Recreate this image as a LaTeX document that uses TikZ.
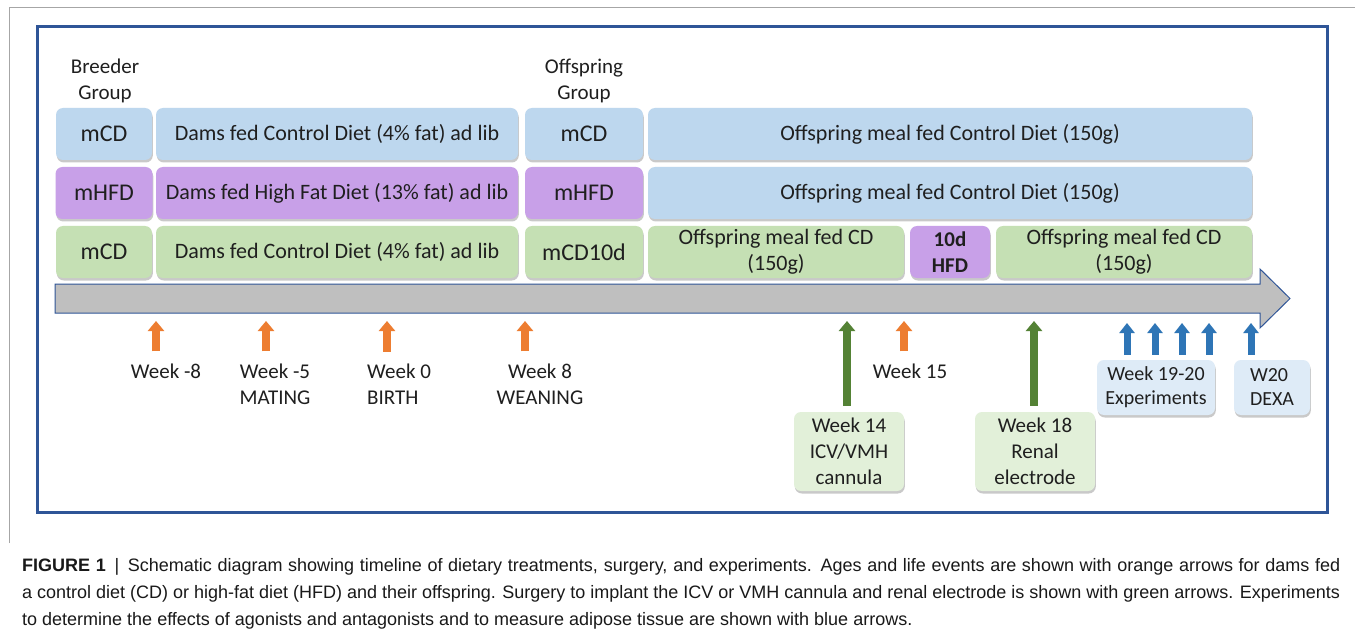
\documentclass[tikz,border=0pt]{standalone}
\usepackage{fontspec}
\setmainfont{Carlito}
\newfontfamily\capfont{Liberation Sans}
\usepackage{xcolor}
\usetikzlibrary{arrows.meta,shadows,calc}
\definecolor{frameblue}{HTML}{2F5597}
\definecolor{rowblue}{HTML}{BDD7EE}
\definecolor{rowpurple}{HTML}{C8A0E8}
\definecolor{rowgreen}{HTML}{C5E0B4}
\definecolor{barfill}{HTML}{BFBFBF}
\definecolor{agearrow}{HTML}{ED7D31}
\definecolor{surgarrow}{HTML}{548235}
\definecolor{exparrow}{HTML}{2E75B6}
\definecolor{surgbox}{HTML}{E2F0D9}
\definecolor{expbox}{HTML}{DEEBF7}
\definecolor{inkgray}{HTML}{1F1F1F}
\newcommand{\lblfont}{\fontsize{21}{26}\selectfont}
\newcommand{\rowfont}{\fontsize{22}{26}\selectfont}
\newcommand{\grpfont}{\fontsize{24}{28}\selectfont}

\begin{document}
\begin{tikzpicture}[
    x=1pt, y=-1pt,
    every node/.style={font=\lblfont, text=inkgray},
    box/.style={rounded corners=7pt, inner sep=0pt, align=center,
      minimum height=52pt,
      drop shadow={shadow xshift=0.8pt, shadow yshift=-2.5pt,
        opacity=0.35, fill=black!60}},
    bluebox/.style={box, fill=rowblue, font=\rowfont},
    purplebox/.style={box, fill=rowpurple, font=\rowfont},
    greenbox/.style={box, fill=rowgreen, font=\rowfont},
    grp/.style={font=\grpfont},
    wklabel/.style={inner sep=0pt, align=center},
    agearr/.style={agearrow, line width=8pt,
      -{Triangle[width=16pt,length=10pt]}, shorten <=12pt},
    surgarr/.style={surgarrow, line width=8pt,
      -{Triangle[width=16pt,length=10pt]}, shorten <=6pt},
    exparr/.style={exparrow, line width=7pt,
      -{Triangle[width=15pt,length=10pt]}, shorten <=5pt},
  ]
    % picture is laid out in pixel units of the 1355 x 631 figure
    \useasboundingbox (0,0) rectangle (1355,631);
    \fill[white] (0,0) rectangle (1355,631);

    % outer page rule and blue frame
    \draw[gray!70, line width=0.8pt] (9,543) -- (9,7) -- (1355,7);
    \draw[frameblue, line width=3pt] (37,27) rectangle (1327,512);

    % column headers
    \node[align=center] (breeder) at (105,81) {Breeder\\Group};
    \node[align=center] (offspring) at (584,81) {Offspring\\Group};

    % --- row 1: mCD
    \node[bluebox, grp, minimum width=96pt] (g1) at (104,134) {mCD};
    \node[bluebox, minimum width=362pt] (d1) at (337,134)
      {Dams fed Control Diet (4\% fat) ad lib};
    \node[bluebox, grp, minimum width=118pt] (o1) at (584,134) {mCD};
    \node[bluebox, minimum width=604pt] (f1) at (950,134)
      {Offspring meal fed Control Diet (150g)};

    % --- row 2: mHFD
    \node[purplebox, grp, minimum width=97pt] (g2) at (104,193) {mHFD};
    \node[purplebox, minimum width=362pt] (d2) at (337,193)
      {Dams fed High Fat Diet (13\% fat) ad lib};
    \node[purplebox, grp, minimum width=118pt] (o2) at (584,193) {mHFD};
    \node[bluebox, minimum width=604pt] (f2) at (950,193)
      {Offspring meal fed Control Diet (150g)};

    % --- row 3: mCD10d
    \node[greenbox, grp, minimum width=96pt] (g3) at (104,252) {mCD};
    \node[greenbox, minimum width=362pt] (d3) at (337,252)
      {Dams fed Control Diet (4\% fat) ad lib};
    \node[greenbox, grp, minimum width=118pt] (o3) at (584,252) {mCD10d};
    \node[greenbox, minimum width=256pt] (f3a) at (776,252)
      {Offspring meal fed CD\\(150g)};
    \node[purplebox, minimum width=80pt, font=\lblfont\bfseries] (hfd) at (950,252)
      {10d\\HFD};
    \node[greenbox, minimum width=256pt] (f3b) at (1124,252)
      {Offspring meal fed CD\\(150g)};

    % timeline bar
    \draw[frameblue, line width=1pt, fill=barfill]
      (55,284) -- (1260,284) -- (1260,269) -- (1290,298.5)
      -- (1260,328) -- (1260,313) -- (55,313) -- cycle;

    % arrow tips on the timeline
    \coordinate (tm8) at (156,321);
    \coordinate (tm5) at (266,321);
    \coordinate (t0)  at (387,321);
    \coordinate (t8)  at (525,321);
    \coordinate (t14) at (847,321);
    \coordinate (t15) at (904,321);
    \coordinate (t18) at (1034,321);
    \coordinate (tdx) at (1251,323);

    % --- ages and life events (orange)
    \node[wklabel] (wm8) at (166,371) {Week -8};
    \node[wklabel] (wm5) at (275,384) {Week -5\\MATING};
    \node[wklabel, align=left, anchor=west] (w0) at (367,384) {Week 0\\BIRTH};
    \node[wklabel] (w8) at (540,384) {Week 8\\WEANING};
    \node[wklabel] (w15) at (910,371) {Week 15};
    \draw[agearr] (tm5 |- wm5.north) -- (tm5);
    \draw[agearr] (tm8 |- wm8.north) -- (tm8);
    \draw[agearr] (t0 |- w0.north) -- (t0);
    \draw[agearr] (t8 |- w8.north) -- (t8);
    \draw[agearr] (t15 |- w15.north) -- (t15);

    % --- surgery (green)
    \node[box, fill=surgbox, minimum width=110pt, minimum height=79pt] (w14)
      at (849,451.5) {Week 14\\ICV/VMH\\cannula};
    \node[box, fill=surgbox, minimum width=120pt, minimum height=79pt] (w18)
      at (1035,451.5) {Week 18\\Renal\\electrode};
    \draw[surgarr] (t14 |- w14.north) -- (t14);
    \draw[surgarr] (t18 |- w18.north) -- (t18);

    % --- experiments (blue)
    \node[box, fill=expbox, minimum width=118pt, minimum height=55pt,
      font=\fontsize{20}{24}\selectfont] (w19)
      at (1156,387.5) {Week 19-20\\Experiments};
    \node[box, fill=expbox, minimum width=76pt, minimum height=55pt,
      align=left, font=\fontsize{20}{24}\selectfont] (dexa)
      at (1272,387.5) {W20\\DEXA};
    \foreach \ex [count=\i] in {1127,1155,1182,1209} {
      \coordinate (te\i) at (\ex,323);
      \draw[exparr] (te\i |- w19.north) -- (te\i);
    }
    \draw[exparr] (tdx |- dexa.north) -- (tdx);

    % caption
    \node[anchor=base west, text width=1318pt, align=justify, inner sep=0pt,
      font=\capfont\fontsize{18}{27}\selectfont, text=black!90] (caption)
      at (22,571)
      {\textbf{FIGURE 1}\ \,|\ \,Schematic diagram showing timeline of
       dietary treatments, surgery, and experiments. Ages and life events are
       shown with orange arrows for dams fed\linebreak
       a control diet (CD) or high-fat diet (HFD) and their offspring. Surgery
       to implant the ICV or VMH cannula and renal electrode is shown with
       green arrows. Experiments\linebreak
       to determine the effects of agonists and antagonists and to measure
       adipose tissue are shown with blue arrows.};
  \end{tikzpicture}
\end{document}
